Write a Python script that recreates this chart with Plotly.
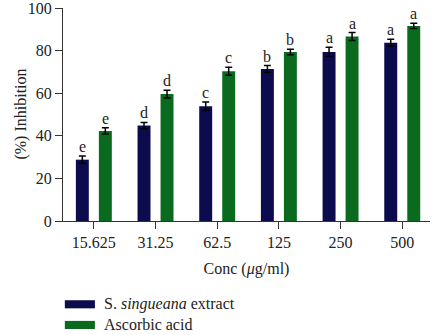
import plotly.graph_objects as go

categories = ["15.625", "31.25", "62.5", "125", "250", "500"]
extract_vals = [28.8, 44.8, 53.9, 71.4, 79.4, 83.7]
extract_err = [1.7, 1.5, 2.0, 1.6, 2.2, 1.6]
extract_letters = ["e", "d", "c", "b", "a", "a"]
ascorbic_vals = [42.3, 59.6, 70.3, 79.3, 86.6, 91.6]
ascorbic_err = [1.5, 1.8, 1.9, 1.3, 1.9, 1.2]
ascorbic_letters = ["e", "d", "c", "b", "a", "a"]
series_names = ["S. <i>singueana</i> extract", "Ascorbic acid"]
colors = ["#0b0b4d", "#0a6b1f"]

FONT = "Liberation Serif"

fig = go.Figure()
for name, vals, errs, col in [
    (series_names[0], extract_vals, extract_err, colors[0]),
    (series_names[1], ascorbic_vals, ascorbic_err, colors[1]),
]:
    fig.add_trace(go.Bar(
        x=categories, y=vals, name=name, marker=dict(color=col, line=dict(width=0)),
        error_y=dict(type="data", array=errs, visible=True, color="black", thickness=1.5, width=3.5),
        showlegend=False,
    ))

fig.update_layout(
    width=433, height=335,
    margin=dict(l=63, r=3, t=8, b=114),
    paper_bgcolor="white", plot_bgcolor="white",
    barmode="group", bargap=0.254, bargroupgap=0.437,
    font=dict(family=FONT, size=16, color="#222"),
    xaxis=dict(
        type="category", range=[-0.5, 5.45], automargin=False,
        showline=True, linecolor="#333", linewidth=1.2,
        ticks="outside", ticklen=7, tickcolor="#333", tickwidth=1.2,
        tickfont=dict(family=FONT, size=16, color="#222"),
        title=dict(text="Conc (<i>μ</i>g/ml)", font=dict(family=FONT, size=16, color="#222"), standoff=12),
    ),
    yaxis=dict(
        range=[0, 100], tickvals=[0, 20, 40, 60, 80, 100], automargin=False,
        showline=True, linecolor="#333", linewidth=1.2,
        ticks="outside", ticklen=7, tickcolor="#333", tickwidth=1.2,
        showgrid=False, zeroline=False, ticklabeloverflow="allow",
        tickfont=dict(family=FONT, size=16, color="#222"),
    ),
)

# significance letters
offsets = [-0.186, 0.186]
for si, (vals, errs, letters) in enumerate([
    (extract_vals, extract_err, extract_letters),
    (ascorbic_vals, ascorbic_err, ascorbic_letters),
]):
    for i, (v, e, l) in enumerate(zip(vals, errs, letters)):
        fig.add_annotation(
            x=i + offsets[si], y=v + e, xref="x", yref="y", text=l, showarrow=False,
            yanchor="bottom", yshift=-1, font=dict(family=FONT, size=16, color="#222"),
        )

# y-axis title
fig.add_annotation(
    x=-0.117, y=0.5, xref="paper", yref="paper", text="(%) Inhibition", textangle=-90,
    xanchor="center", yanchor="middle",
    showarrow=False, font=dict(family=FONT, size=16, color="#222"),
)

# manual legend
leg_y = [-0.391, -0.488]
for name, col, yy in zip(series_names, colors, leg_y):
    fig.add_shape(type="rect", xref="paper", yref="paper",
                  x0=0.005, x1=0.087, y0=yy - 0.019, y1=yy + 0.019,
                  fillcolor=col, line=dict(width=0))
    fig.add_annotation(x=0.106, y=yy, xref="paper", yref="paper", text=name, showarrow=False,
                       xanchor="left", yanchor="middle", font=dict(family=FONT, size=16, color="#222"))

fig.write_html("out.html", config={"displayModeBar": False},
               post_script="document.body.style.margin='0';")
